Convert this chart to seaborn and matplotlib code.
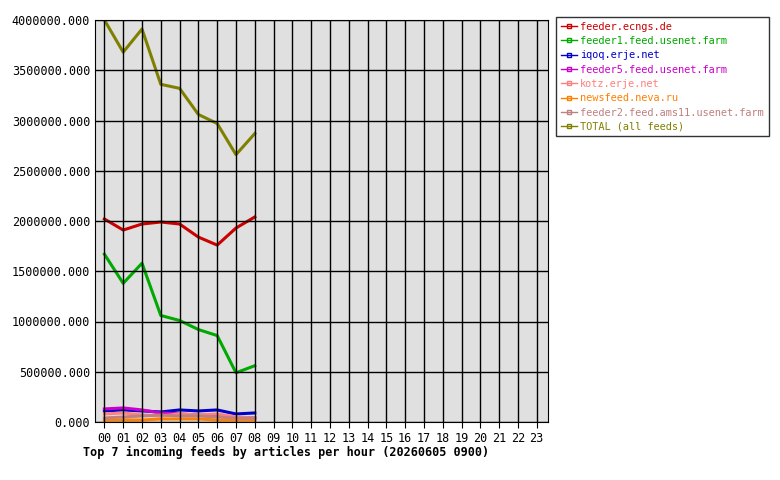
import matplotlib
matplotlib.use("Agg")
import matplotlib.pyplot as plt
import seaborn as sns
import pandas as pd
from matplotlib.ticker import FuncFormatter
from matplotlib.lines import Line2D

hours = [f"{h:02d}" for h in range(24)]
x = list(range(9))
feeds = ["feeder.ecngs.de", "feeder1.feed.usenet.farm", "iqoq.erje.net",
         "feeder5.feed.usenet.farm", "kotz.erje.net", "newsfeed.neva.ru",
         "feeder2.feed.ams11.usenet.farm", "TOTAL (all feeds)"]
colors = ["#cc0000", "#00aa00", "#0000cc", "#cc00cc", "#ff8080", "#ff8000", "#c08080", "#808000"]
ecngs = [2020000, 1910000, 1970000, 1990000, 1970000, 1840000, 1760000, 1930000, 2040000]
feeder1 = [1670000, 1380000, 1580000, 1060000, 1010000, 920000, 860000, 490000, 560000]
iqoq = [110000, 120000, 110000, 100000, 120000, 110000, 120000, 80000, 90000]
feeder5 = [130000, 140000, 120000, 90000, 80000, 70000, 60000, 40000, 40000]
kotz = [80000, 90000, 70000, 60000, 80000, 70000, 80000, 50000, 40000]
neva = [20000, 20000, 20000, 30000, 30000, 30000, 20000, 20000, 20000]
feeder2 = [40000, 50000, 60000, 70000, 60000, 60000, 50000, 40000, 40000]
total = [4000000, 3680000, 3910000, 3360000, 3320000, 3060000, 2970000, 2660000, 2870000]
series = [ecngs, feeder1, iqoq, feeder5, kotz, neva, feeder2, total]

rows = []
for f, vals in zip(feeds, series):
    for h, v in zip(x, vals):
        rows.append({"hour": h, "feed": f, "value": v})
df = pd.DataFrame(rows)

plt.rcParams['font.family'] = ['DejaVu Sans Mono']
fig = plt.figure(figsize=(7.8, 4.8), dpi=100)
ax = fig.add_axes([95/780, 1 - 422/480, 453/780, 402/480])
ax.set_facecolor("#e0e0e0")
sns.lineplot(data=df, x="hour", y="value", hue="feed", hue_order=feeds,
             palette=colors, linewidth=2.2, ax=ax, legend=False)
ax.set_xlim(-0.5, 23.6)
ax.set_ylim(0, 4000000)
ax.set_xticks(range(24))
ax.set_xticklabels(hours, fontsize=8.5)
ax.set_yticks(range(0, 4000001, 500000))
ax.yaxis.set_major_formatter(FuncFormatter(lambda v, p: f"{v:.3f}"))
ax.tick_params(axis='y', labelsize=8.5, length=0)
ax.tick_params(axis='x', length=4)
ax.grid(True, color="black", linewidth=1)
ax.set_axisbelow(False)
for s in ax.spines.values():
    s.set_color("black")
ax.set_xlabel("")
ax.set_ylabel("")

handles = [Line2D([0], [0], color=c, lw=1, marker='s', markersize=2.5, markerfacecolor='none') for c in colors]
leg = fig.legend(handles, feeds, loc="upper left", bbox_to_anchor=(556/780, 1 - 17/480),
                 frameon=True, fontsize=7.4, handlelength=1.6, fancybox=False,
                 borderpad=0.45, labelspacing=0.42, handletextpad=0.3, borderaxespad=0)
leg.get_frame().set_edgecolor("black")
for t, c in zip(leg.get_texts(), colors):
    t.set_color(c)
fig.text(83/780, 1 - 452/480, "Top 7 incoming feeds by articles per hour (20260605 0900)",
         fontsize=8.5, fontweight="bold", va="center")
fig.savefig("out.png", dpi=100, facecolor="white")
